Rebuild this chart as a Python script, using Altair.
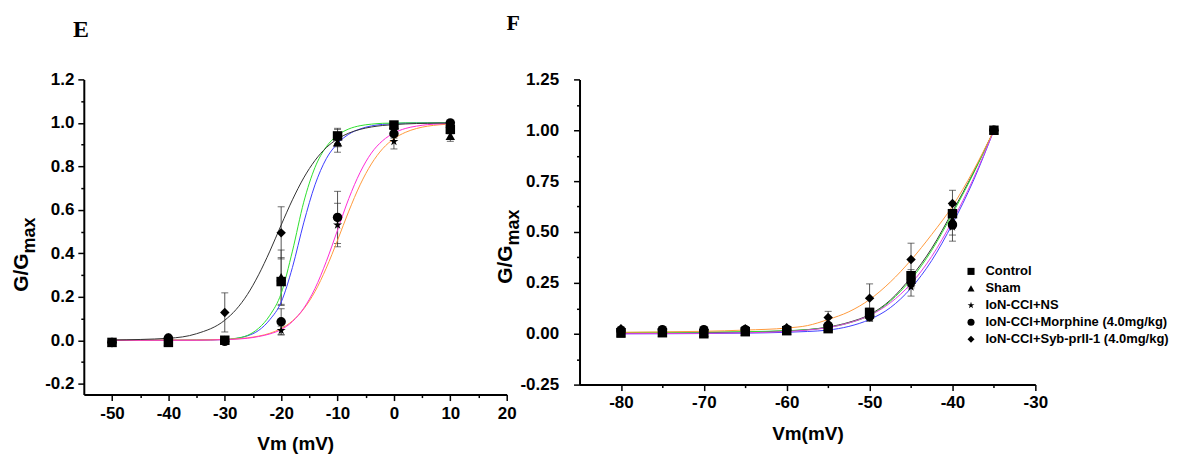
import altair as alt
import pandas as pd

SERIES = ["Control", "Sham", "IoN-CCI+NS",
          "IoN-CCI+Morphine (4.0mg/kg)", "IoN-CCI+Syb-prII-1 (4.0mg/kg)"]
STAR = ("M0,-1L0.2245,-0.309L0.9511,-0.309L0.3633,0.118L0.5878,0.809L0,0.382"
        "L-0.5878,0.809L-0.3633,0.118L-0.9511,-0.309L-0.2245,-0.309Z")
SHAPES = ["square", "triangle-up", STAR, "circle", "diamond"]

# ---------------- Panel E ----------------
E_V = [-50, -40, -30, -20, -10, 0, 10]
E_CONTROL = [-0.01, -0.01, 0.0, 0.27, 0.94, 0.99, 0.97]
E_SHAM = [-0.01, -0.005, 0.0, 0.29, 0.91, 0.99, 0.94]
E_NS = [-0.01, -0.005, 0.0, 0.045, 0.53, 0.915, 0.98]
E_MORPH = [-0.01, 0.01, -0.005, 0.085, 0.565, 0.95, 1.0]
E_SYB = [-0.01, 0.01, 0.128, 0.494, 0.93, 0.975, 0.98]
E_CONTROL_ERR = [0.0, 0.01, 0.005, 0.11, 0.035, 0.01, 0.02]
E_SHAM_ERR = [0.0, 0.01, 0.005, 0.125, 0.045, 0.01, 0.025]
E_NS_ERR = [0.0, 0.01, 0.005, 0.02, 0.1, 0.035, 0.02]
E_MORPH_ERR = [0.0, 0.01, 0.005, 0.06, 0.12, 0.02, 0.005]
E_SYB_ERR = [0.0, 0.01, 0.09, 0.12, 0.04, 0.02, 0.02]

E_CURVE_V = [-50, -40, -35, -30, -28, -26, -24, -22, -20, -18, -16, -14, -12,
             -10, -8, -6, -4, -2, 0, 2, 4, 6, 8, 10]
E_CURVE_CONTROL = [0.0, 0.0, 0.001, 0.003, 0.008, 0.02, 0.045, 0.095, 0.175, 0.335,
                   0.54, 0.715, 0.835, 0.905, 0.948, 0.972, 0.986, 0.993, 0.997,
                   0.999, 1.0, 1.0, 1.0, 1.0]
E_CURVE_SHAM = [0.0, 0.0, 0.001, 0.004, 0.009, 0.022, 0.055, 0.115, 0.215, 0.41,
                0.635, 0.795, 0.89, 0.943, 0.972, 0.987, 0.994, 0.998, 0.999,
                1.0, 1.0, 1.0, 1.0, 1.0]
E_CURVE_NS = [0.0, 0.001, 0.001, 0.004, 0.006, 0.011, 0.019, 0.032, 0.054, 0.089,
              0.144, 0.224, 0.332, 0.46, 0.594, 0.715, 0.811, 0.881, 0.927, 0.956,
              0.974, 0.985, 0.991, 0.995]
E_CURVE_MORPH = [0.0, 0.0, 0.0, 0.003, 0.005, 0.009, 0.017, 0.029, 0.049, 0.086,
                 0.147, 0.238, 0.362, 0.507, 0.652, 0.772, 0.861, 0.918, 0.953,
                 0.974, 0.985, 0.992, 0.995, 0.998]
E_CURVE_SYB = [0.001, 0.009, 0.03, 0.092, 0.141, 0.21, 0.301, 0.41, 0.53, 0.646,
               0.747, 0.827, 0.886, 0.926, 0.953, 0.97, 0.981, 0.988, 0.992, 0.995,
               0.997, 0.998, 0.999, 0.999]
E_COLORS = ["#3d3dff", "#2ee02e", "#ff9a3c", "#ff2bd6", "#333333"]

E_X_TICKS = [-50, -45, -40, -35, -30, -25, -20, -15, -10, -5, 0, 5, 10, 15, 20]
E_Y_TICKS = [-0.2, -0.1, 0.0, 0.1, 0.2, 0.3, 0.4, 0.5, 0.6, 0.7, 0.8, 0.9, 1.0, 1.1, 1.2]

# ---------------- Panel F ----------------
F_V = [-80, -75, -70, -65, -60, -55, -50, -45, -40, -35]
F_CONTROL = [0.005, 0.005, 0.0, 0.01, 0.015, 0.025, 0.105, 0.285, 0.59, 1.0]
F_SHAM = [0.0, 0.005, 0.005, 0.01, 0.015, 0.035, 0.095, 0.265, 0.56, 1.0]
F_NS = [0.005, 0.005, 0.005, 0.01, 0.015, 0.03, 0.08, 0.23, 0.525, 1.0]
F_MORPH = [0.015, 0.02, 0.02, 0.02, 0.02, 0.04, 0.085, 0.255, 0.535, 1.0]
F_SYB = [0.025, 0.02, 0.02, 0.025, 0.03, 0.08, 0.175, 0.365, 0.64, 1.0]
F_CONTROL_ERR = [0.01, 0.01, 0.01, 0.01, 0.01, 0.01, 0.02, 0.03, 0.04, 0.0]
F_SHAM_ERR = [0.01, 0.01, 0.01, 0.01, 0.01, 0.01, 0.02, 0.03, 0.04, 0.0]
F_NS_ERR = [0.01, 0.01, 0.01, 0.01, 0.01, 0.015, 0.02, 0.045, 0.07, 0.0]
F_MORPH_ERR = [0.01, 0.01, 0.01, 0.01, 0.01, 0.01, 0.02, 0.03, 0.05, 0.0]
F_SYB_ERR = [0.01, 0.01, 0.01, 0.01, 0.01, 0.03, 0.07, 0.08, 0.065, 0.0]

F_CURVE_V = [-80, -75, -70, -65, -60, -57.5, -55, -52.5, -50, -47.5, -45, -42.5,
             -40, -37.5, -35]
F_CURVE_CONTROL = [0.002, 0.003, 0.005, 0.008, 0.014, 0.02, 0.033, 0.056, 0.094,
                   0.165, 0.278, 0.42, 0.6, 0.79, 1.0]
F_CURVE_SHAM = [0.006, 0.007, 0.008, 0.01, 0.015, 0.02, 0.031, 0.053, 0.09, 0.16,
                0.267, 0.41, 0.59, 0.785, 1.0]
F_CURVE_NS = [0.0, 0.0, 0.001, 0.003, 0.007, 0.011, 0.018, 0.036, 0.07, 0.128,
              0.224, 0.36, 0.54, 0.75, 1.0]
F_CURVE_MORPH = [0.0, 0.001, 0.002, 0.005, 0.011, 0.018, 0.03, 0.053, 0.09, 0.152,
                 0.246, 0.38, 0.555, 0.76, 1.0]
F_CURVE_SYB = [0.007, 0.009, 0.012, 0.018, 0.028, 0.04, 0.07, 0.108, 0.168, 0.254,
               0.362, 0.488, 0.627, 0.8, 1.0]
F_COLORS = ["#333333", "#2ee02e", "#4040ff", "#e23ce6", "#ff9a3c"]

F_X_TICKS = [-80, -75, -70, -65, -60, -55, -50, -45, -40, -35, -30]
F_Y_TICKS = [-0.25, -0.125, 0.0, 0.125, 0.25, 0.375, 0.5, 0.625, 0.75, 0.875,
             1.0, 1.125, 1.25]

FONT = "Liberation Sans"


def point_table(v, values, errors):
    rows = []
    for name, vals, errs in zip(SERIES, values, errors):
        for x, g, e in zip(v, vals, errs):
            rows.append({"v": x, "g": g, "err": e, "lo": g - e, "hi": g + e,
                         "series": name})
    return pd.DataFrame(rows)


def cap_table(pts):
    sub = pts[pts["err"] > 0]
    caps = pd.concat([
        pd.DataFrame({"v": sub["v"], "g": sub["lo"]}),
        pd.DataFrame({"v": sub["v"], "g": sub["hi"]}),
    ])
    return caps, sub


def curve_table(v, curves):
    rows = []
    for name, vals in zip(SERIES, curves):
        for x, g in zip(v, vals):
            rows.append({"v": x, "g": g, "series": name})
    return pd.DataFrame(rows)


def make_axis(values, test, fmt, title, label_pad, title_pad, label_size):
    kw = dict(
        values=values,
        labelExpr=f"{test} ? replace(format(datum.value, '{fmt}'), '\u2212', '-') : ''",
        tickSize={"condition": {"test": test, "value": 6}, "value": 3},
        tickWidth=1.5, tickColor="black",
        domainColor="black", domainWidth=2,
        labelFont=FONT, labelFontWeight="bold", labelFontSize=label_size,
        labelColor="black", labelPadding=label_pad,
        labelFlush=False, labelOverlap=False, grid=False,
        title=title,
    )
    if title is not None:
        kw.update(titleFont=FONT, titleFontSize=19, titleFontWeight="bold",
                  titleColor="black", titlePadding=title_pad)
    return alt.Axis(**kw)


# legend sits at the top level; x/y are relative to panel E's plot origin
LEGEND = alt.Legend(
    orient="none", legendX=883, legendY=186, title=None, padding=0,
    labelFont=FONT, labelFontWeight="bold", labelFontSize=13, labelColor="black",
    labelLimit=400, symbolSize=50, symbolFillColor="black",
    symbolStrokeColor="black", symbolStrokeWidth=0, rowPadding=3, labelOffset=8,
)


def panel(pts, curves, colors, xdom, ydom, xaxis, yaxis, width, height,
          letter, letter_xy, letter_size, ytitle_xy, max_xy):
    caps, errs = cap_table(pts)
    X = alt.X("v:Q", scale=alt.Scale(domain=xdom, nice=False, zero=False), axis=xaxis)
    Y = alt.Y("g:Q", scale=alt.Scale(domain=ydom, nice=False, zero=False), axis=yaxis)
    lines = alt.Chart(curves).mark_line(strokeWidth=1, interpolate="monotone").encode(
        x=X, y=Y,
        color=alt.Color("series:N", scale=alt.Scale(domain=SERIES, range=colors), legend=None),
        detail="series:N",
    )
    rules = alt.Chart(errs).mark_rule(color="#555555", strokeWidth=1).encode(
        x=X,
        y=alt.Y("lo:Q", scale=alt.Scale(domain=ydom, nice=False, zero=False), axis=yaxis),
        y2="hi:Q",
    )
    capm = alt.Chart(caps).mark_tick(orient="horizontal", size=7, thickness=1,
                                      color="#333333").encode(x=X, y=Y)
    points = alt.Chart(pts).mark_point(filled=True, opacity=1, color="black",
                                       size=90).encode(
        x=X, y=Y,
        shape=alt.Shape("series:N", scale=alt.Scale(domain=SERIES, range=SHAPES),
                        legend=LEGEND),
    )
    letter_mark = alt.Chart(pd.DataFrame({"t": [letter]})).mark_text(
        font="Liberation Serif", fontWeight="bold", fontSize=letter_size,
        color="black", align="center", baseline="alphabetic",
    ).encode(x=alt.value(letter_xy[0]), y=alt.value(letter_xy[1]), text="t:N")
    gg = alt.Chart(pd.DataFrame({"t": ["G/G"]})).mark_text(
        font=FONT, fontWeight="bold", fontSize=21, color="black", angle=270,
        align="left", baseline="alphabetic",
    ).encode(x=alt.value(ytitle_xy[0]), y=alt.value(ytitle_xy[1]), text="t:N")
    mx = alt.Chart(pd.DataFrame({"t": ["max"]})).mark_text(
        font=FONT, fontWeight="bold", fontSize=18, color="black", angle=270,
        align="left", baseline="alphabetic",
    ).encode(x=alt.value(max_xy[0]), y=alt.value(max_xy[1]), text="t:N")
    return alt.layer(rules, capm, lines, points, letter_mark, gg, mx).properties(
        width=width, height=height)


e_pts = point_table(E_V, [E_CONTROL, E_SHAM, E_NS, E_MORPH, E_SYB],
                    [E_CONTROL_ERR, E_SHAM_ERR, E_NS_ERR, E_MORPH_ERR, E_SYB_ERR])
e_curves = curve_table(E_CURVE_V, [E_CURVE_CONTROL, E_CURVE_SHAM, E_CURVE_NS,
                                   E_CURVE_MORPH, E_CURVE_SYB])
f_pts = point_table(F_V, [F_CONTROL, F_SHAM, F_NS, F_MORPH, F_SYB],
                    [F_CONTROL_ERR, F_SHAM_ERR, F_NS_ERR, F_MORPH_ERR, F_SYB_ERR])
f_curves = curve_table(F_CURVE_V, [F_CURVE_CONTROL, F_CURVE_SHAM, F_CURVE_NS,
                                   F_CURVE_MORPH, F_CURVE_SYB])

e_xaxis = make_axis(E_X_TICKS, "datum.value % 10 === 0", "d", "Vm (mV)", 5, 13, 17)
e_yaxis = make_axis(E_Y_TICKS, "abs(round(datum.value * 10)) % 2 === 0", ".1f",
                    None, 4, 0, 17)
f_xaxis = make_axis(F_X_TICKS, "datum.value % 10 === 0", "d", "Vm(mV)", 4, 14, 17)
f_yaxis = make_axis(F_Y_TICKS, "abs(round(datum.value * 8)) % 2 === 0", ".2f",
                    None, 15, 0, 17)

chart_e = panel(e_pts, e_curves, E_COLORS, [-55, 20], [-0.25, 1.2], e_xaxis, e_yaxis,
                424, 316, "E", (-2.9, -43), 24, (-56.4, 213), (-49.4, 174.5))
chart_f = panel(f_pts, f_curves, F_COLORS, [-85, -30], [-0.25, 1.25], f_xaxis, f_yaxis,
                457, 306, "F", (-66.5, -50), 22, (-67.5, 205), (-61, 166.5))

chart = alt.concat(chart_e, chart_f, columns=2, spacing=73, bounds="flush").resolve_scale(
    color="independent"
).properties(
    padding={"left": 2, "top": 2, "right": 0, "bottom": 0}
).configure_view(stroke="transparent")

chart.save("out.html", embed_options={"renderer": "svg", "actions": False})
